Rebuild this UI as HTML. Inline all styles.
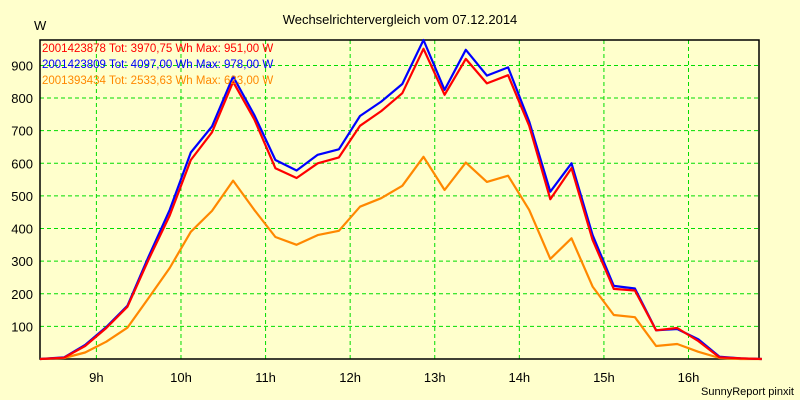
<!DOCTYPE html>
<html><head><meta charset="utf-8"><style>
body{margin:0;background:#ffffcc;}
svg{display:block;font-family:"Liberation Sans",sans-serif;}
</style></head><body>
<svg id="chart" width="800" height="400">
<rect width="800" height="400" fill="#ffffcc"/>
<text x="400" y="24" text-anchor="middle" font-size="13" fill="#000">Wechselrichtervergleich vom 07.12.2014</text>
<text x="34" y="30" font-size="13" fill="#000">W</text>
<g id="grid"></g>
<g id="axes"></g>
<g id="series"></g>
<g id="legend"></g>
<text x="794" y="395" text-anchor="end" font-size="11" fill="#000">SunnyReport pinxit</text>
</svg>
<script>
const yTicks=[100,200,300,400,500,600,700,800,900];
const xHours=[9,10,11,12,13,14,15,16];
const startHour=8+22/60;
const stepHours=0.25;
const seriesRed=[0,4,40,95,160,305,440,610,695,850,735,585,555,600,618,715,760,815,951,810,920,845,870,715,490,585,365,215,210,88,95,55,5,2,0];
const seriesBlue=[0,5,43,98,163,314,457,633,713,866,748,610,578,626,643,745,789,843,978,825,948,869,894,728,513,600,380,224,216,88,92,60,7,2,0];
const seriesOrange=[0,3,20,53,96,187,279,390,454,547,457,374,350,380,393,467,493,531,620,518,602,543,562,457,307,370,222,135,128,40,46,22,3,0,0];
const legendLabels=["2001423878 Tot: 3970,75 Wh Max: 951,00 W","2001423809 Tot: 4097,00 Wh Max: 978,00 W","2001393434 Tot: 2533,63 Wh Max: 623,00 W"];
const L=40,R=759,T=40,B=359,yMax=978,xMin=8+20/60,xMax=16+50/60;
const ys=v=>B-(v/yMax)*(B-T);
const xs=h=>L+(h-xMin)/(xMax-xMin)*(R-L);
const NS="http://www.w3.org/2000/svg";
function mk(tag,attrs,parent){const e=document.createElementNS(NS,tag);for(const k in attrs)e.setAttribute(k,attrs[k]);parent.appendChild(e);return e;}
const grid=document.getElementById('grid'),axes=document.getElementById('axes'),ser=document.getElementById('series'),leg=document.getElementById('legend');
yTicks.forEach(v=>{
 const l=mk('line',{x1:L,x2:R,y1:ys(v),y2:ys(v),stroke:'#00dd00','stroke-dasharray':'4,3'},grid);
 
 
 const t=mk('text',{x:33,y:ys(v)+5,'text-anchor':'end','font-size':'13',fill:'#000'},axes);
 t.textContent=v;
 
 
});
xHours.forEach(h=>{
 const l=mk('line',{x1:xs(h),x2:xs(h),y1:T,y2:B,stroke:'#00dd00','stroke-dasharray':'4,3'},grid);
 
 
 const t=mk('text',{x:xs(h),y:382,'text-anchor':'middle','font-size':'13',fill:'#000'},axes);
 t.textContent=h+'h';
 
 
});
const fr=mk('rect',{x:L,y:T,width:R-L,height:B-T,fill:'none',stroke:'#000','stroke-width':1.5},axes);


function draw(arr,color,name){
 const pts=arr.map((v,i)=>xs(startHour+i*stepHours).toFixed(1)+','+ys(v).toFixed(1));
 pts[0]=L+','+ys(arr[0]).toFixed(1);
 const p=mk('polyline',{points:pts.join(' '),fill:'none',stroke:color,'stroke-width':2.2,'stroke-linejoin':'round'},ser);
 
 
}
draw(seriesOrange,'#ff8800','series-2001393434');
draw(seriesBlue,'#0000ff','series-2001423809');
draw(seriesRed,'#ff0000','series-2001423878');
const legColors=['#ff0000','#0000ff','#ff8800'];
legendLabels.forEach((s,i)=>{
 const t=mk('text',{x:42,y:52+i*16,'font-size':'11.5',fill:legColors[i]},leg);
 t.textContent=s;
 
 
});
</script>
</body></html>
